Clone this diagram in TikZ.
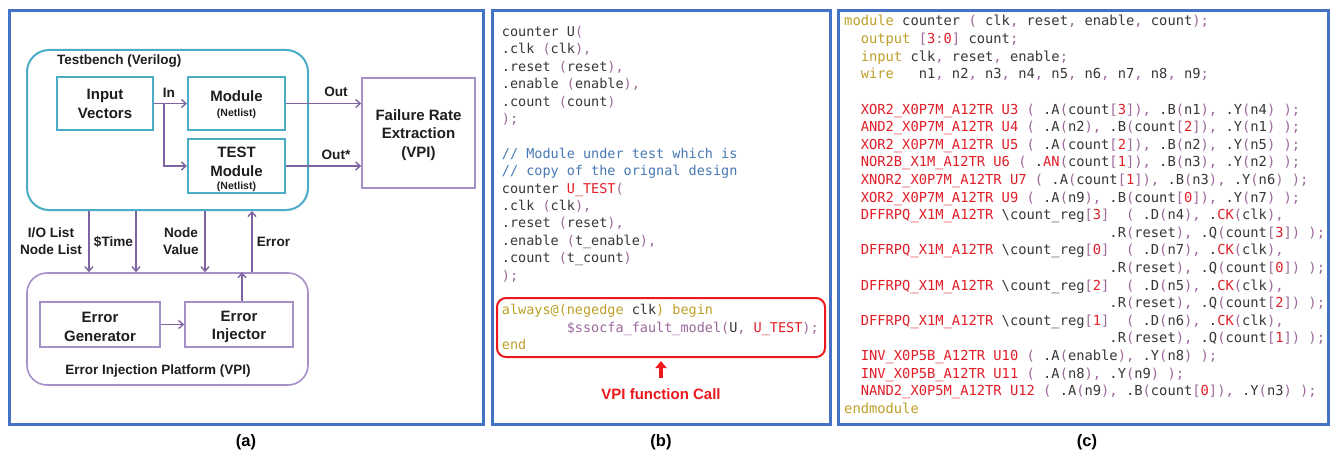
\documentclass[tikz,border=0pt]{standalone}
\usepackage{fontspec}
\setmainfont{Liberation Sans}
\newfontfamily\codefont{DejaVu Sans Mono}
\usetikzlibrary{arrows.meta}

\definecolor{panelblue}{RGB}{68,114,196}
\definecolor{tbteal}{RGB}{75,172,198}
\definecolor{vpiline}{RGB}{165,145,200}
\definecolor{flow}{RGB}{128,100,162}
\definecolor{ink}{RGB}{30,30,30}
\definecolor{callred}{RGB}{235,25,30}
\definecolor{codeink}{RGB}{55,55,55}
\definecolor{codepunc}{RGB}{155,105,155}
\definecolor{codekw}{RGB}{190,160,40}
\definecolor{codered}{RGB}{225,30,40}
\definecolor{codecmt}{RGB}{70,120,180}

% syntax colouring helpers
\newcommand\cPu[1]{\textcolor{codepunc}{#1}}
\newcommand\cKw[1]{\textcolor{codekw}{#1}}
\newcommand\cRd[1]{\textcolor{codered}{#1}}
\newcommand\cCm[1]{\textcolor{codecmt}{#1}}
% one source line: name, column, baseline, text
\newcommand\lnb[4]{\node[codeb] (#1) at ({501.7+#2*8.12},#3) {#4};}
\newcommand\lnc[4]{\node[codec] (#1) at ({844+#2*8.29},#3) {#4};}
% extra room above the first line of a box label
\newcommand\toppad[1]{\rule{0pt}{#1}}

\begin{document}
\begin{tikzpicture}[x=1pt,y=-1pt,
  panel/.style={draw=panelblue,line width=3pt},
  tbbox/.style={draw=tbteal,line width=2pt,rounded corners=22pt,inner sep=0pt},
  tealbox/.style={draw=tbteal,line width=2pt,align=center,text=ink,
    font=\bfseries\fontsize{15}{19}\selectfont,inner sep=0pt},
  vpibox/.style={draw=vpiline,line width=1.6pt,align=center,text=ink,
    font=\bfseries\fontsize{15}{18.5}\selectfont,inner sep=0pt},
  vpiplat/.style={draw=vpiline,line width=1.6pt,rounded corners=20pt,inner sep=0pt},
  lbl/.style={text=ink,font=\bfseries\fontsize{13.6}{16.6}\selectfont,align=center,inner sep=0pt},
  flowarr/.style={draw=flow,line width=1.4pt,-{Straight Barb[length=4.5pt,width=8pt]}},
  codeb/.style={anchor=base west,inner sep=0pt,text=codeink,
    font=\codefont\fontsize{13.49}{16}\selectfont\frenchspacing},
  codec/.style={anchor=base west,inner sep=0pt,text=codeink,
    font=\codefont\fontsize{13.77}{16}\selectfont\frenchspacing},
  caption/.style={text=black,font=\bfseries\fontsize{16.5}{19}\selectfont,inner sep=0pt}
]
\fill[white] (0,0) rectangle (1330,452);
\useasboundingbox (0,0) rectangle (1330,452);

% panel frames
\draw[panel] (9.5,10.5) rectangle (483,424);
\draw[panel] (492,10.5) rectangle (830,424.5);
\draw[panel] (838.3,10.5) rectangle (1328,424);

% ---------------- (a) block diagram ----------------
\node[tbbox,minimum width=281pt,minimum height=160pt] (tb) at (167.5,130) {};
\node[lbl,anchor=west,font=\bfseries\fontsize{13.5}{16}\selectfont] (tbt) at (57,61) {Testbench (Verilog)};

\node[tealbox,minimum width=96pt,minimum height=53pt] (iv) at (105,103.5) {Input\\Vectors};
\node[tealbox,minimum width=97pt,minimum height=53pt] (mod) at (236.5,103.5)
  {\toppad{13pt}Module\\[-4pt]{\fontsize{10.5}{12}\selectfont(Netlist)}};
\node[tealbox,minimum width=97pt,minimum height=54pt] (tmod) at (236.5,166)
  {\toppad{17pt}TEST\\Module\\[-6pt]{\fontsize{10.5}{12}\selectfont(Netlist)}};
\node[vpibox,minimum width=113pt,minimum height=110pt] (fre) at (418.5,133)
  {\toppad{15pt}Failure Rate\\Extraction\\(VPI)};

\path (iv.east) ++(10,0) coordinate (br);
\draw[flowarr] (iv.east) -- (mod.west);
\draw[flowarr] (br) |- (tmod.west);
\draw[flowarr] (mod.east) -- (mod.east -| fre.west);
\draw[flowarr] (tmod.east) -- (tmod.east -| fre.west);
\node[lbl] (lin) at (169,93) {In};
\node[lbl] (lout) at (336,92) {Out};
\node[lbl] (lout2) at (336,155) {Out*};

\node[vpiplat,minimum width=281pt,minimum height=112pt] (eip) at (167.5,329) {};
\node[vpibox,minimum width=120pt,minimum height=45pt] (egen) at (100,324.5) {\toppad{15.5pt}Error\\Generator};
\node[vpibox,minimum width=108pt,minimum height=45pt] (einj) at (239,324.5) {\toppad{15.5pt}Error\\Injector};
\node[lbl,font=\bfseries\fontsize{13.5}{16}\selectfont] (lplat) at (158,371) {Error Injection Platform (VPI)};

\coordinate (cio) at (89,0);
\coordinate (ctm) at (136,0);
\coordinate (cnv) at (205,0);
\coordinate (cer) at (252,0);
\draw[flowarr] (tb.south -| cio) -- (eip.north -| cio);
\draw[flowarr] (tb.south -| ctm) -- (eip.north -| ctm);
\draw[flowarr] (tb.south -| cnv) -- (eip.north -| cnv);
\draw[flowarr] (eip.north -| cer) -- (tb.south -| cer);
\draw[flowarr] ([xshift=3pt]einj.north) -- ([xshift=3pt]einj.north |- eip.north);
\draw[flowarr] (egen.east) -- (einj.west);

\node[lbl] (lio) at (51,241) {I/O List\\Node List};
\node[lbl] (ltm) at (113.5,242) {\$Time};
\node[lbl] (lnv) at (181,241) {Node\\Value};
\node[lbl] (ler) at (273.5,242) {Error};

% ---------------- (b) testbench source ----------------
\lnb{b1}{0}{36.5}{counter U\cPu{(}}
\lnb{b2}{0}{53.9}{.clk \cPu{(}clk\cPu{),}}
\lnb{b3}{0}{71.3}{.reset \cPu{(}reset\cPu{),}}
\lnb{b4}{0}{88.7}{.enable \cPu{(}enable\cPu{),}}
\lnb{b5}{0}{106.1}{.count \cPu{(}count\cPu{)}}
\lnb{b6}{0}{123.5}{\cPu{);}}
\lnb{b7}{0}{158.3}{\cCm{// Module under test which is}}
\lnb{b8}{0}{175.7}{\cCm{// copy of the orignal design}}
\lnb{b9}{0}{193.1}{counter \cRd{U\_TEST}\cPu{(}}
\lnb{b10}{0}{210.5}{.clk \cPu{(}clk\cPu{),}}
\lnb{b11}{0}{227.9}{.reset \cPu{(}reset\cPu{),}}
\lnb{b12}{0}{245.3}{.enable \cPu{(}t\_enable\cPu{),}}
\lnb{b13}{0}{262.7}{.count \cPu{(}t\_count\cPu{)}}
\lnb{b14}{0}{280.1}{\cPu{);}}
\lnb{b15}{0}{314.9}{\cKw{always@(negedge} clk\cKw{) begin}}
\lnb{b16}{8}{332.3}{\cPu{\$ssocfa\_fault\_model(}U\cPu{,} \cRd{U\_TEST}\cPu{);}}
\lnb{b17}{0}{349.7}{\cKw{end}}

\node[draw=callred,line width=2pt,rounded corners=9pt,minimum width=328pt,
  minimum height=59pt,inner sep=0pt] (callbox) at (661,327.5) {};
\node[text=callred,font=\bfseries\fontsize{15}{18}\selectfont,inner sep=0pt] (call) at (661,394) {VPI function Call};
\draw[callred,line width=3.5pt,-{Triangle[length=7pt,width=11pt]},
  shorten <=10pt,shorten >=3pt] (call.north) -- (callbox.south);

% ---------------- (c) gate-level netlist ----------------
\lnc{c1}{0}{26}{\cKw{module} counter \cPu{(} clk\cPu{,} reset\cPu{,} enable\cPu{,} count\cPu{);}}
\lnc{c2}{2}{43.6}{\cKw{output} \cPu{[}\cRd{3}\cPu{:}\cRd{0}\cPu{]} count\cPu{;}}
\lnc{c3}{2}{61.2}{\cKw{input} clk\cPu{,} reset\cPu{,} enable\cPu{;}}
\lnc{c4}{2}{78.8}{\cKw{wire}~~~n1\cPu{,} n2\cPu{,} n3\cPu{,} n4\cPu{,} n5\cPu{,} n6\cPu{,} n7\cPu{,} n8\cPu{,} n9\cPu{;}}
\lnc{c6}{2}{114}{\cRd{XOR2\_X0P7M\_A12TR U3} \cPu{(} .A\cPu{(}count\cPu{[}\cRd{3}\cPu{]),} .B\cPu{(}n1\cPu{),} .Y\cPu{(}n4\cPu{)} \cPu{);}}
\lnc{c7}{2}{131.6}{\cRd{AND2\_X0P7M\_A12TR U4} \cPu{(} .A\cPu{(}n2\cPu{),} .B\cPu{(}count\cPu{[}\cRd{2}\cPu{]),} .Y\cPu{(}n1\cPu{)} \cPu{);}}
\lnc{c8}{2}{149.2}{\cRd{XOR2\_X0P7M\_A12TR U5} \cPu{(} .A\cPu{(}count\cPu{[}\cRd{2}\cPu{]),} .B\cPu{(}n2\cPu{),} .Y\cPu{(}n5\cPu{)} \cPu{);}}
\lnc{c9}{2}{166.8}{\cRd{NOR2B\_X1M\_A12TR U6} \cPu{(} .\cRd{AN}\cPu{(}count\cPu{[}\cRd{1}\cPu{]),} .B\cPu{(}n3\cPu{),} .Y\cPu{(}n2\cPu{)} \cPu{);}}
\lnc{c10}{2}{184.4}{\cRd{XNOR2\_X0P7M\_A12TR U7} \cPu{(} .A\cPu{(}count\cPu{[}\cRd{1}\cPu{]),} .B\cPu{(}n3\cPu{),} .Y\cPu{(}n6\cPu{)} \cPu{);}}
\lnc{c11}{2}{202}{\cRd{XOR2\_X0P7M\_A12TR U9} \cPu{(} .A\cPu{(}n9\cPu{),} .B\cPu{(}count\cPu{[}\cRd{0}\cPu{]),} .Y\cPu{(}n7\cPu{)} \cPu{);}}
\lnc{c12}{2}{219.6}{\cRd{DFFRPQ\_X1M\_A12TR} \textbackslash count\_reg\cPu{[}\cRd{3}\cPu{]}~~\cPu{(} .D\cPu{(}n4\cPu{),} .\cRd{CK}\cPu{(}clk\cPu{),}}
\lnc{c13}{32}{237.2}{.R\cPu{(}reset\cPu{),} .Q\cPu{(}count\cPu{[}\cRd{3}\cPu{])} \cPu{);}}
\lnc{c14}{2}{254.8}{\cRd{DFFRPQ\_X1M\_A12TR} \textbackslash count\_reg\cPu{[}\cRd{0}\cPu{]}~~\cPu{(} .D\cPu{(}n7\cPu{),} .\cRd{CK}\cPu{(}clk\cPu{),}}
\lnc{c15}{32}{272.4}{.R\cPu{(}reset\cPu{),} .Q\cPu{(}count\cPu{[}\cRd{0}\cPu{])} \cPu{);}}
\lnc{c16}{2}{290}{\cRd{DFFRPQ\_X1M\_A12TR} \textbackslash count\_reg\cPu{[}\cRd{2}\cPu{]}~~\cPu{(} .D\cPu{(}n5\cPu{),} .\cRd{CK}\cPu{(}clk\cPu{),}}
\lnc{c17}{32}{307.6}{.R\cPu{(}reset\cPu{),} .Q\cPu{(}count\cPu{[}\cRd{2}\cPu{])} \cPu{);}}
\lnc{c18}{2}{325.2}{\cRd{DFFRPQ\_X1M\_A12TR} \textbackslash count\_reg\cPu{[}\cRd{1}\cPu{]}~~\cPu{(} .D\cPu{(}n6\cPu{),} .\cRd{CK}\cPu{(}clk\cPu{),}}
\lnc{c19}{32}{342.8}{.R\cPu{(}reset\cPu{),} .Q\cPu{(}count\cPu{[}\cRd{1}\cPu{])} \cPu{);}}
\lnc{c20}{2}{360.4}{\cRd{INV\_X0P5B\_A12TR U10} \cPu{(} .A\cPu{(}enable\cPu{),} .Y\cPu{(}n8\cPu{)} \cPu{);}}
\lnc{c21}{2}{378}{\cRd{INV\_X0P5B\_A12TR U11} \cPu{(} .A\cPu{(}n8\cPu{),} .Y\cPu{(}n9\cPu{)} \cPu{);}}
\lnc{c22}{2}{395.6}{\cRd{NAND2\_X0P5M\_A12TR U12} \cPu{(} .A\cPu{(}n9\cPu{),} .B\cPu{(}count\cPu{[}\cRd{0}\cPu{]),} .Y\cPu{(}n3\cPu{)} \cPu{);}}
\lnc{c23}{0}{413.2}{\cKw{endmodule}}

% captions
\node[caption] (capa) at (246,442) {(a)};
\node[caption] (capb) at (661,442) {(b)};
\node[caption] (capc) at (1087,442) {(c)};
\end{tikzpicture}
\end{document}
